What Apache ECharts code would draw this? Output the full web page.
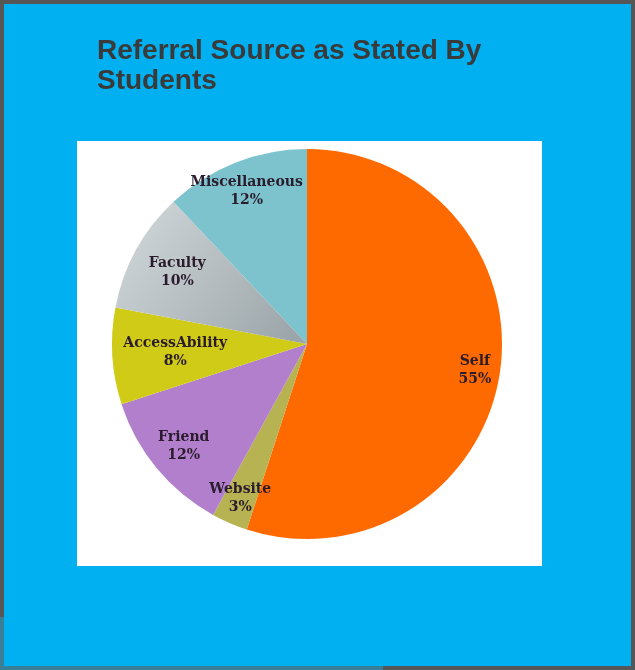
<!DOCTYPE html>
<html>
<head>
<meta charset="utf-8">
<script src="https://cdn.jsdelivr.net/npm/echarts@6/dist/echarts.min.js"></script>
<style>
html,body{margin:0;padding:0;background:#565656;}
#c{width:635px;height:670px;}
</style>
</head>
<body>
<div id="c"></div>
<script>
// ---- data ----
const categories = ['Self', 'Website', 'Friend', 'AccessAbility', 'Faculty', 'Miscellaneous'];
const percents = [55, 3, 12, 8, 10, 12];
const titleText = 'Referral Source as Stated By\nStudents';

// ---- styles ----
const sliceColors = [
  '#ff6a00',
  '#b7b252',
  '#b17fcb',
  '#cfcb17',
  {type:'linear', x:0, y:0, x2:1, y2:1, colorStops:[{offset:0,color:'#d4dadc'},{offset:1,color:'#98a2a6'}]},
  '#7dc3cd'
];
const labelRadius = [167, 165, 157, 129, 145, 161];
const R = 195;
const cx = 307, cy = 344;

const chart = echarts.init(document.getElementById('c'), null, {renderer:'canvas'});

const mainData = categories.map((n,i)=>({name:n, value:percents[i], itemStyle:{color:sliceColors[i]}}));

const series = [{
  type:'pie', center:[cx,cy], radius:[0,R], startAngle:90, clockwise:true,
  silent:true, label:{show:false}, labelLine:{show:false},
  data: mainData, animation:false
}];

categories.forEach((n,i)=>{
  const lr = labelRadius[i];
  series.push({
    type:'pie', center:[cx,cy], radius:[2*lr-R, R], startAngle:90, clockwise:true,
    silent:true, animation:false, labelLine:{show:false},
    itemStyle:{color:'rgba(0,0,0,0)'},
    label:{show:false},
    data: categories.map((m,j)=>({
      name:m, value:percents[j],
      label: j===i ? {
        show:true, position:'inside',
        formatter: p => p.name + '\n' + p.value + '%',
        fontFamily:'"DejaVu Serif", serif', fontWeight:'bold', fontSize:14,
        lineHeight:18, color:'#2a1c2c', align:'center'
      } : {show:false}
    }))
  });
});

chart.setOption({
  backgroundColor:'#565656',
  animation:false,
  title:{
    text:titleText, left:92, top:31,
    textStyle:{fontFamily:'"Liberation Sans", Arial, sans-serif', fontWeight:'bold', fontSize:28, lineHeight:30, color:'#3a3a3a'}
  },
  graphic:[
    {type:'rect', z:-10, shape:{x:4,y:4,width:627,height:662}, style:{fill:'#00B0F0'}},
    {type:'rect', z:-10, shape:{x:0,y:617,width:4,height:53}, style:{fill:'#3a7f98'}},
    {type:'rect', z:-10, shape:{x:0,y:666,width:383,height:4}, style:{fill:'#3a7f98'}},
    {type:'rect', z:-5, shape:{x:77,y:141,width:465,height:425}, style:{fill:'#ffffff'}}
  ],
  series: series
});
</script>
</body>
</html>
